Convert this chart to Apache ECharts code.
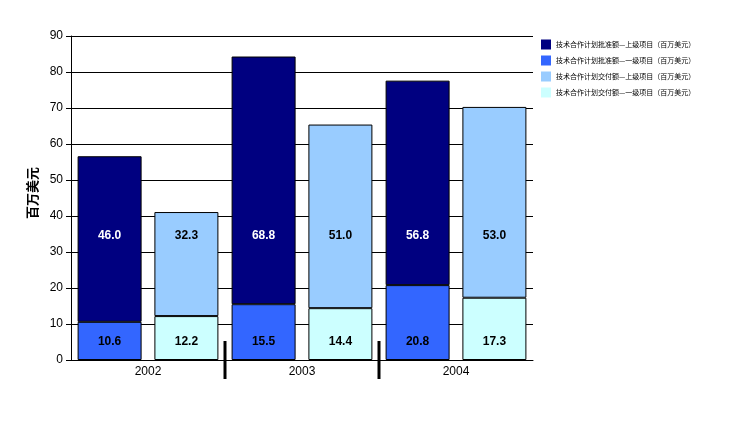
<!DOCTYPE html>
<html><head><meta charset="utf-8">
<script src="https://cdn.jsdelivr.net/npm/echarts@6/dist/echarts.min.js"></script>
<style>html,body{margin:0;padding:0;background:#fff}#c{width:756px;height:434px}</style>
</head><body><div id="c"></div>
<script>
const categories = ['2002', '2003', '2004'];
const seriesNames = [
  '技术合作计划批准额—上级项目（百万美元）',
  '技术合作计划批准额—一级项目（百万美元）',
  '技术合作计划交付额—上级项目（百万美元）',
  '技术合作计划交付额—一级项目（百万美元）'
];
const approvedUpper = [46.0, 68.8, 56.8];
const approvedLower = [10.6, 15.5, 20.8];
const deliveredUpper = [28.9, 51.0, 53.0];
const deliveredLower = [12.2, 14.4, 17.3];
const approvedUpperLabels = ['46.0', '68.8', '56.8'];
const approvedLowerLabels = ['10.6', '15.5', '20.8'];
const deliveredUpperLabels = ['32.3', '51.0', '53.0'];
const deliveredLowerLabels = ['12.2', '14.4', '17.3'];
const yTicks = [0, 10, 20, 30, 40, 50, 60, 70, 80, 90];
const yAxisName = '百万美元';

const colors = ['#000080', '#3366FF', '#99CCFF', '#CCFFFF'];
const font = 'Arial, "Liberation Sans", "Noto Sans CJK SC", sans-serif';
const chart = echarts.init(document.getElementById('c'));

function mk(name, stack, vals, labels, color, txtColor) {
  return {
    name, type: 'bar', stack, barWidth: 64, barGap: '20%',
    itemStyle: { color, borderColor: '#000', borderWidth: 1 },
    label: { show: true, position: 'inside', color: txtColor, fontWeight: 'bold', fontSize: 12, fontFamily: font,
      formatter: p => labels[p.dataIndex] },
    data: vals.slice()
  };
}
const seriesDefs = [
  mk(seriesNames[1], 'a', approvedLower, approvedLowerLabels, colors[1], '#000'),
  mk(seriesNames[0], 'a', approvedUpper, approvedUpperLabels, colors[0], '#fff'),
  mk(seriesNames[3], 'b', deliveredLower, deliveredLowerLabels, colors[3], '#000'),
  mk(seriesNames[2], 'b', deliveredUpper, deliveredUpperLabels, colors[2], '#000')
];

chart.setOption({
  animation: false,
  textStyle: { fontFamily: font },
  grid: { left: 71, right: 223, top: 36, bottom: 74 },
  legend: {
    orient: 'vertical', left: 536, top: 34, itemWidth: 10, itemHeight: 10, itemGap: 5,
    data: seriesNames, icon: 'rect',
    itemStyle: { borderWidth: 0 },
    textStyle: { fontSize: 7, color: '#000', lineHeight: 11, fontFamily: '"Noto Sans CJK SC", sans-serif' }
  },
  xAxis: {
    type: 'category', data: categories,
    axisLine: { lineStyle: { color: '#000' } },
    axisTick: { show: false },
    axisLabel: { color: '#000', fontSize: 12, margin: 6 }
  },
  yAxis: {
    type: 'value', min: 0, max: 90, interval: 10,
    name: yAxisName, nameLocation: 'middle', nameGap: 31, nameRotate: 90,
    nameTextStyle: { fontSize: 13, fontWeight: 'bold', color: '#000', fontFamily: '"Noto Sans CJK SC", sans-serif', padding: [0, 0, 0, 10] },
    axisLine: { show: true, lineStyle: { color: '#000' } },
    axisTick: { show: true, length: 5, lineStyle: { color: '#000' } },
    axisLabel: { color: '#000', fontSize: 12, margin: 8 },
    splitLine: { lineStyle: { color: '#000', width: 1 } }
  },
  series: seriesDefs
});

// place labels at fixed heights like the reference (upper ~34.4, lower ~5)
const lowerLabelY = 5.0, upperLabelY = 34.4;
function offsets(bottoms, vals, target) {
  return vals.map((v, i) => {
    const c = chart.convertToPixel({ gridIndex: 0 }, [i, bottoms[i] + v / 2])[1];
    const t = chart.convertToPixel({ gridIndex: 0 }, [i, target])[1];
    return { value: v, label: { offset: [0, t - c] } };
  });
}
const zeros = [0, 0, 0];
chart.setOption({
  series: [
    { data: offsets(zeros, approvedLower, lowerLabelY) },
    { data: offsets(approvedLower, approvedUpper, upperLabelY) },
    { data: offsets(zeros, deliveredLower, lowerLabelY) },
    { data: offsets(deliveredLower, deliveredUpper, upperLabelY) }
  ]
});

// category separators crossing the x axis between groups
const gs = [];
for (let i = 0; i < categories.length - 1; i++) {
  const a = chart.convertToPixel({ gridIndex: 0 }, [i, 0]);
  const b = chart.convertToPixel({ gridIndex: 0 }, [i + 1, 0]);
  const x = (a[0] + b[0]) / 2;
  gs.push({ type: 'line', shape: { x1: x, y1: a[1] - 19, x2: x, y2: a[1] + 19 }, style: { stroke: '#000', lineWidth: 3 }, z: 10 });
}
chart.setOption({ graphic: gs });
</script></body></html>
